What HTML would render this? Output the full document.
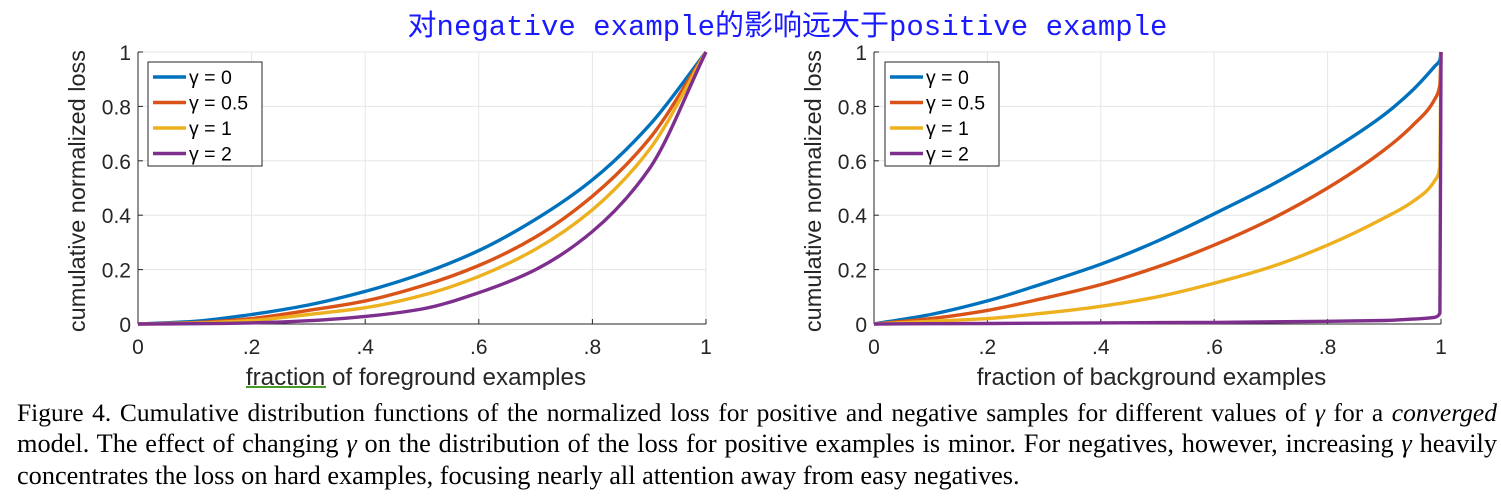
<!DOCTYPE html>
<html><head><meta charset="utf-8">
<style>
body{margin:0;background:#fff;width:1501px;height:497px;overflow:hidden;position:relative}
#title{position:absolute;left:37px;width:1501px;top:2px;text-align:center;color:#1a1aff;font:29px "Liberation Mono","Noto Sans CJK SC",monospace;}
.cl{position:absolute;left:17px;width:1480px;font:26.3px "Liberation Serif",serif;color:#000;text-align:justify;text-align-last:justify;white-space:nowrap;line-height:30px}
.cl.last{text-align-last:left}
svg{position:absolute;left:0;top:0}
</style></head><body>
<div id="title">对negative example的影响远大于positive example</div>
<svg id="svg" width="1501" height="395"></svg>
<div>
<div class="cl" style="top:398px;font-size:25.5px">Figure 4. Cumulative distribution functions of the normalized loss for positive and negative samples for different values of <i>γ</i> for a <i>converged</i></div>
<div class="cl" style="top:429px">model. The effect of changing <i>γ</i> on the distribution of the loss for positive examples is minor. For negatives, however, increasing <i>γ</i> heavily</div>
<div class="cl last" style="top:461px">concentrates the loss on hard examples, focusing nearly all attention away from easy negatives.</div>
</div>
<script>
const seriesLabels=["γ = 0","γ = 0.5","γ = 1","γ = 2"];
const colors=["#0072BD","#D95319","#EDB120","#7E2F8E"];
const xTickLabels=["0",".2",".4",".6",".8","1"];
const yTickLabels=["0","0.2","0.4","0.6","0.8","1"];
const fgX=[0,0.1,0.2,0.3,0.4,0.5,0.6,0.7,0.8,0.9,1];
const fgG0=[0,0.01,0.035,0.07,0.12,0.185,0.27,0.385,0.53,0.73,1];
const fgG05=[0,0.005,0.02,0.05,0.085,0.14,0.215,0.32,0.47,0.68,1];
const fgG1=[0,0.003,0.013,0.035,0.06,0.105,0.175,0.275,0.42,0.64,1];
const fgG2=[0,0.001,0.004,0.012,0.028,0.055,0.115,0.2,0.34,0.57,1];
const bgX=[0,0.1,0.2,0.3,0.4,0.5,0.6,0.7,0.8,0.9,0.95,0.99,0.998,1];
const bgG0=[0,0.035,0.085,0.15,0.22,0.305,0.405,0.51,0.63,0.77,0.86,0.95,0.97,1];
const bgG05=[0,0.02,0.05,0.095,0.145,0.21,0.29,0.385,0.5,0.64,0.73,0.83,0.88,1];
const bgG1=[0,0.01,0.02,0.04,0.065,0.1,0.15,0.21,0.29,0.39,0.45,0.53,0.58,1];
const bgG2=[0,0.001,0.002,0.003,0.004,0.005,0.006,0.008,0.01,0.013,0.018,0.025,0.04,1];
const NS="http://www.w3.org/2000/svg";
const svg=document.getElementById('svg');
function mk(t,a,p){const e=document.createElementNS(NS,t);for(const k in a)e.setAttribute(k,a[k]);(p||svg).appendChild(e);return e;}
function smoothPath(P){
  const n=P.length;let d='M'+P[0][0].toFixed(1)+','+P[0][1].toFixed(1);
  const dx=[],sl=[];for(let i=0;i<n-1;i++){dx.push(P[i+1][0]-P[i][0]);sl.push((P[i+1][1]-P[i][1])/dx[i]);}
  const m=[sl[0]];for(let i=1;i<n-1;i++){m.push(sl[i-1]*sl[i]<=0?0:(dx[i-1]+dx[i])*3/((2*dx[i]+dx[i-1])/sl[i-1]+(dx[i]+2*dx[i-1])/sl[i]));}m.push(sl[n-2]);
  for(let i=0;i<n-1;i++){const h=dx[i]/3;
    d+='C'+(P[i][0]+h).toFixed(1)+','+(P[i][1]+m[i]*h).toFixed(1)+' '+(P[i+1][0]-h).toFixed(1)+','+(P[i+1][1]-m[i+1]*h).toFixed(1)+' '+P[i+1][0].toFixed(1)+','+P[i+1][1].toFixed(1);}
  return d;
}
function plot(id,L,R,T,B,xs,ys,xlabel,legX){
  const g=mk('g',{});
  
  
  const sx=v=>L+v*(R-L), sy=v=>B-v*(B-T);
  for(let i=0;i<=5;i++){
    const v=i/5;
    mk('line',{x1:sx(v),x2:sx(v),y1:T,y2:B,stroke:'#e6e6e6','stroke-width':1},g);
    mk('line',{x1:L,x2:R,y1:sy(v),y2:sy(v),stroke:'#e6e6e6','stroke-width':1},g);
    const xt=mk('text',{x:sx(v),y:B+30,'text-anchor':'middle','font-family':'Liberation Sans,sans-serif','font-size':21,fill:'#262626'},g);
    xt.textContent=xTickLabels[i];
    
    
    const yt=mk('text',{x:L-7,y:sy(v)+8,'text-anchor':'end','font-family':'Liberation Sans,sans-serif','font-size':21,fill:'#262626'},g);
    yt.textContent=yTickLabels[i];
    
    
    mk('line',{x1:sx(v),x2:sx(v),y1:B,y2:B-5,stroke:'#262626'},g);
    mk('line',{x1:L,x2:L+5,y1:sy(v),y2:sy(v),stroke:'#262626'},g);
  }
  mk('line',{x1:L,x2:R,y1:B,y2:B,stroke:'#262626','stroke-width':1},g);
  mk('line',{x1:L,x2:L,y1:T,y2:B,stroke:'#262626','stroke-width':1},g);
  ys.forEach((arr,k)=>{
    const P=xs.map((x,i)=>[sx(x),sy(arr[i])]);
    const p=mk('path',{d:smoothPath(P),fill:'none',stroke:colors[k],'stroke-width':3.4,'stroke-linejoin':'round'},g);
    
    
  });
  const xl=mk('text',{x:(L+R)/2-6,y:B+61,'text-anchor':'middle','font-family':'Liberation Sans,sans-serif','font-size':24.2,fill:'#262626'},g);
  xl.textContent=xlabel;
  
  
  const yl=mk('text',{x:0,y:0,'text-anchor':'middle','font-family':'Liberation Sans,sans-serif','font-size':23.5,fill:'#262626',transform:`translate(${L-53},${(T+B)/2+3}) rotate(-90)`},g);
  yl.textContent='cumulative normalized loss';
  
  
  const lg=mk('g',{},g);
  
  
  mk('rect',{x:legX,y:62,width:114,height:104,fill:'#fff',stroke:'#262626','stroke-width':1},lg);
  seriesLabels.forEach((s,k)=>{
    const y=77+k*25.5;
    mk('line',{x1:legX+5,x2:legX+38,y1:y,y2:y,stroke:colors[k],'stroke-width':3.4},lg);
    const t=mk('text',{x:legX+41,y:y+7,'font-family':'Liberation Sans,sans-serif','font-size':19.5,fill:'#000'},lg);
    t.textContent=s;
    
    
  });
}
plot('foreground-chart',138,706,52,324,fgX,[fgG0,fgG05,fgG1,fgG2],'fraction of foreground examples',148);
plot('background-chart',874,1441,52,324,bgX,[bgG0,bgG05,bgG1,bgG2],'fraction of background examples',885);
const u=mk('line',{x1:246,x2:326,y1:387,y2:387,stroke:'#4a9a2a','stroke-width':2});


</script>
</body></html>
